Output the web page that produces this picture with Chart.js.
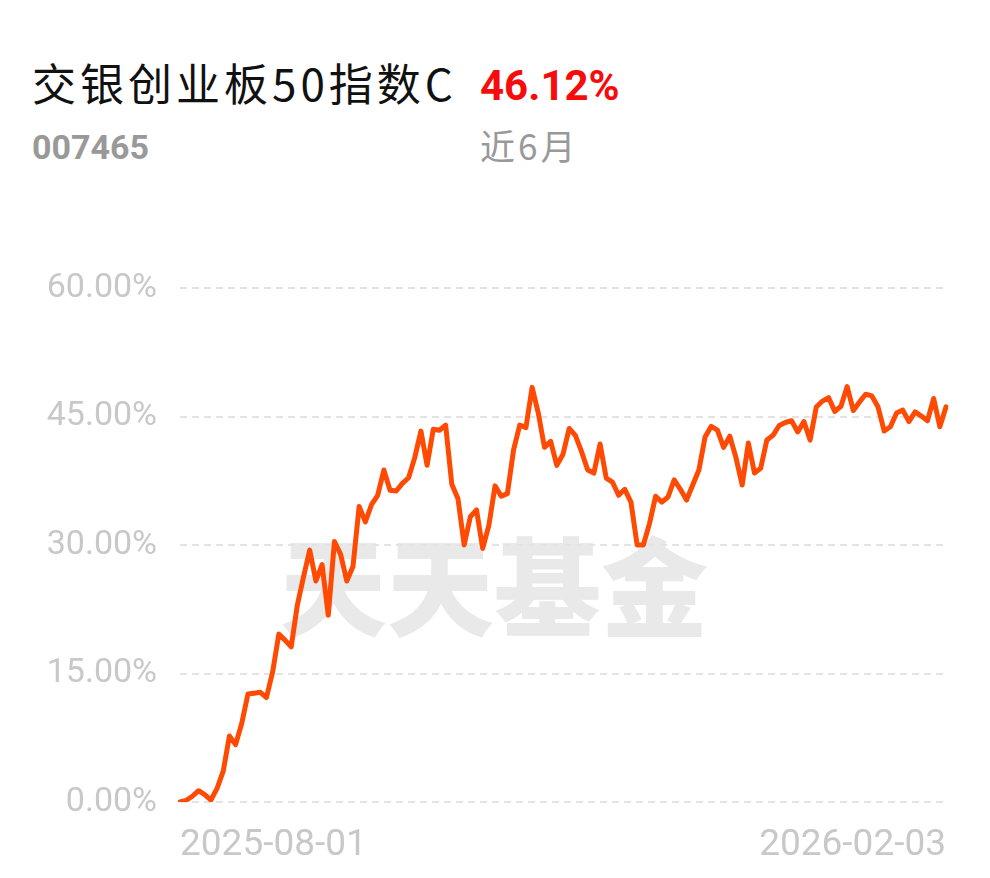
<!DOCTYPE html>
<html>
<head>
<meta charset="utf-8">
<script src="https://cdn.jsdelivr.net/npm/chart.js@4"></script>
<style>
  html, body { margin: 0; padding: 0; background: #fff; }
  body { width: 990px; height: 878px; position: relative; overflow: hidden; font-family: Roboto, "Noto Sans CJK SC", sans-serif; }
  #chart { position: absolute; left: 0; top: 0; }
  .txt { position: absolute; white-space: nowrap; line-height: 1; }
  #name { left: 32px; top: 60px; font-size: 44px; letter-spacing: 4px; color: #111; font-family: "Noto Sans CJK SC", sans-serif; }
  #ret { left: 480px; top: 65px; font-size: 42px; font-weight: bold; color: #f60c0c; }
  #code { left: 32px; top: 130px; font-size: 34px; font-weight: bold; color: #999; }
  #period { left: 480px; top: 127px; font-size: 35px; letter-spacing: 3px; color: #999; font-family: "Noto Sans CJK SC", sans-serif; }
</style>
</head>
<body>
<div class="txt" id="name">交银创业板50指数C</div>
<div class="txt" id="ret">46.12%</div>
<div class="txt" id="code">007465</div>
<div class="txt" id="period">近6月</div>
<canvas id="chart" width="990" height="878"></canvas>
<script>
// cumulative return (%) per trading day, 2025-08-01 .. 2026-02-03
const returns = [
  0, 0.2, 0.67, 1.32, 0.85, 0.23, 1.6, 3.6, 7.7, 6.7,
  9.2, 12.6, 12.7, 12.8, 12.2, 15.2, 19.6, 18.9, 18.1, 23.0,
  26.3, 29.4, 25.8, 27.7, 21.8, 30.4, 28.9, 25.8, 27.5, 34.5,
  32.7, 34.7, 35.8, 38.75, 36.4, 36.3, 37.2, 37.85, 40.2, 43.3,
  39.3, 43.5, 43.4, 44.0, 37.1, 35.4, 30.0, 33.3, 34.1, 29.6,
  32.3, 36.9, 35.7, 36.0, 41.1, 44.0, 43.7, 48.4, 45.4, 41.4,
  42.1, 39.3, 40.6, 43.6, 42.8, 40.9, 38.75, 38.4, 41.8, 37.8,
  37.35, 35.8, 36.5, 35.0, 30.0, 30.0, 32.5, 35.7, 35.0, 35.6,
  37.6, 36.5, 35.25, 37.0, 38.75, 42.6, 43.85, 43.4, 41.4, 42.7,
  40.2, 37.0, 41.9, 38.4, 38.95, 42.25, 42.8, 43.95, 44.3, 44.5,
  43.2, 44.4, 42.25, 46.1, 46.8, 47.2, 45.6, 46.2, 48.5, 45.7,
  46.7, 47.6, 47.4, 46.1, 43.3, 43.8, 45.4, 45.75, 44.4, 45.55,
  45.05, 44.5, 47.1, 43.8, 46.12
];
const dateTicks = ["2025-08-01", "2026-02-03"];
const yTicks = [0, 15, 30, 45, 60];

const labels = returns.map((v, i) => i);

const watermark = {
  id: "watermark",
  beforeDraw(chart) {
    const ctx = chart.ctx;
    ctx.save();
    ctx.fillStyle = "#e9e9e9";
    ctx.font = "900 107px 'Noto Sans CJK SC'";
    ctx.textAlign = "center";
    ctx.textBaseline = "middle";
    ctx.fillText("天天基金", 494, 587);
    ctx.restore();
  }
};

new Chart(document.getElementById("chart").getContext("2d"), {
  type: "line",
  data: {
    labels,
    datasets: [{
      data: returns,
      borderColor: "#fe4a03",
      borderWidth: 5,
      pointRadius: 0,
      tension: 0,
      borderJoinStyle: "round",
      borderCapStyle: "round"
    }]
  },
  options: {
    responsive: false,
    animation: false,
    layout: { padding: { top: 288, right: 44, left: 0, bottom: 0 } },
    plugins: { legend: { display: false }, tooltip: { enabled: false } },
    scales: {
      x: {
        grid: { display: false },
        border: { display: false },
        afterFit(scale) { scale.height = 76; },
        ticks: {
          autoSkip: false,
          maxRotation: 0,
          align: "inner",
          padding: 14,
          color: "#c8c8c8",
          font: { family: "Roboto", size: 37 },
          callback: (v, i, ticks) => i === 0 ? dateTicks[0] : (i === ticks.length - 1 ? dateTicks[1] : "")
        }
      },
      y: {
        min: 0,
        max: 60,
        afterFit(scale) { scale.width = 180; },
        afterBuildTicks(scale) { scale.ticks = yTicks.map(v => ({ value: v })); },
        grid: { color: "#e3e3e3", lineWidth: 2, drawTicks: false },
        border: { display: false, dash: [7, 5] },
        ticks: {
          padding: 23,
          color: "#c8c8c8",
          font: { family: "Roboto", size: 34 },
          callback: v => v.toFixed(2) + "%"
        }
      }
    }
  },
  plugins: [watermark]
});
</script>
</body>
</html>
